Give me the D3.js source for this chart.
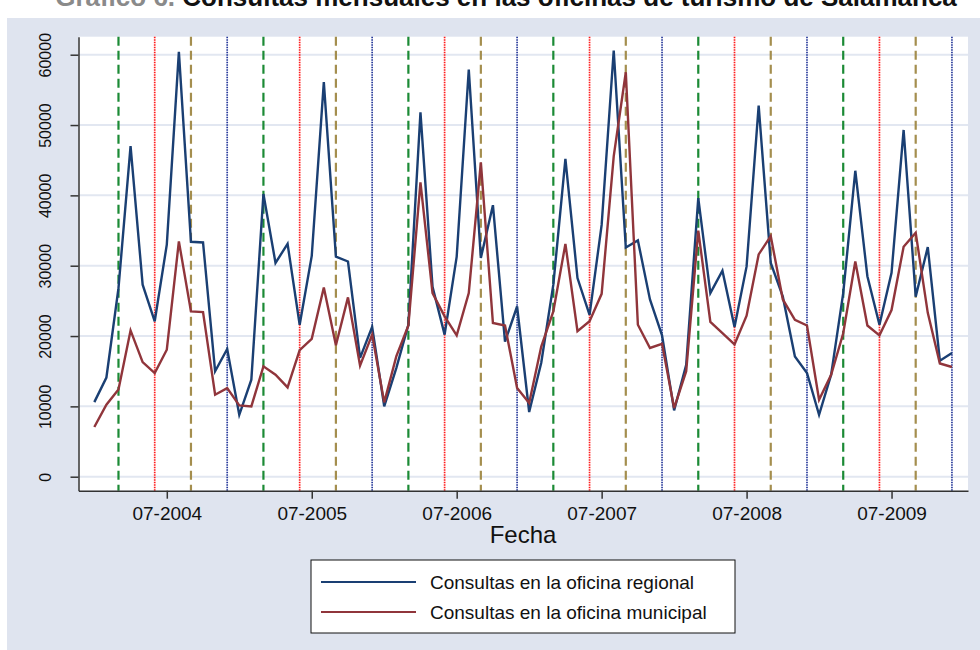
<!DOCTYPE html>
<html>
<head>
<meta charset="utf-8">
<script src="https://cdn.jsdelivr.net/npm/d3@7"></script>
<style>
  body { margin: 0; background: #ffffff; }
  svg { display: block; font-family: "Liberation Sans", Arial, sans-serif; }
</style>
</head>
<body>
<div class="diagram-canvas"></div>
<script>
// monthly values, Jan 2004 .. Dec 2009
let regional = [
  10600, 14100, 26800, 47000, 27300, 22100, 33000, 60400, 33400, 33300, 15000, 18150,
  8800, 13800, 40200, 30400, 33100, 21600, 31400, 56100, 31300, 30600, 16900, 21300,
  10000, 15450, 21600, 51800, 27000, 20200, 31300, 57900, 31100, 38600, 19200, 24200,
  9200, 16200, 27300, 45200, 28250, 23000, 35800, 60600, 32600, 33600, 25200, 20100,
  9430, 15900, 39600, 26100, 29300, 21300, 29900, 52750, 30400, 25600, 17100, 14740,
  8800, 14500, 26100, 43500, 28500, 21600, 29000, 49300, 25600, 32650, 16500, 17600
];
let municipal = [
  7060, 10240, 12400, 20800, 16300, 14740, 18060, 33460, 23500, 23400, 11660, 12600,
  10140, 10000, 15690, 14500, 12700, 18000, 19600, 26900, 18700, 25500, 15800, 20200,
  10570, 17100, 21500, 41850, 26100, 22800, 20100, 26100, 44700, 21850, 21500, 12600,
  10470, 18500, 23500, 33100, 20700, 22100, 26000, 45550, 57500, 21600, 18300, 18900,
  9760, 15000, 35000, 22000, 20400, 18800, 22900, 31600, 34200, 25200, 22300, 21500,
  10950, 14500, 20400, 30600, 21500, 20100, 23700, 32700, 34700, 23300, 16100, 15600
];
let years = [2004, 2005, 2006, 2007, 2008, 2009];
let xTickLabels = ["07-2004", "07-2005", "07-2006", "07-2007", "07-2008", "07-2009"];
let yTicks = [0, 10000, 20000, 30000, 40000, 50000, 60000];
// month of the year (0 = January) marked by a vertical line, one per season
let seasonMonths = [2, 5, 8, 11];
let seriesNames = ["Consultas en la oficina regional", "Consultas en la oficina municipal"];

let width = 980,
  height = 650;

let seasonStyle = [
  { color: "#1b8a35", dash: "9,5", w: 2.2 },
  { color: "#ff1a1a", dash: "1.5,1", w: 1.7 },
  { color: "#a48e4e", dash: "9,5", w: 2.2 },
  { color: "#26399a", dash: "1.5,1", w: 1.7 }
];

let svg = d3
  .select(".diagram-canvas")
  .append("svg")
  .attr("width", width)
  .attr("height", height);

// graph region
svg.append("rect")
  .attr("x", 7).attr("y", 18)
  .attr("width", width - 7).attr("height", height - 18)
  .attr("fill", "#dfe4ef");

let xScale = d3.scaleLinear().domain([-1.31, 72.33]).range([78.5, 968]);
let yScale = d3.scaleLinear().domain([-1990, 62560]).range([490.7, 36.7]);

// plot region
svg.append("rect")
  .attr("x", xScale.range()[0]).attr("y", yScale.range()[1])
  .attr("width", xScale.range()[1] - xScale.range()[0])
  .attr("height", yScale.range()[0] - yScale.range()[1])
  .attr("fill", "#ffffff");

// grid
svg.append("g")
  .selectAll("line")
  .data(yTicks)
  .enter()
  .append("line")
  .attr("x1", xScale.range()[0])
  .attr("x2", xScale.range()[1])
  .attr("y1", (d) => yScale(d))
  .attr("y2", (d) => yScale(d))
  .attr("stroke", "#e2e7f1")
  .attr("stroke-width", 2);

// season lines
let marks = [];
years.forEach(function (y, yi) {
  seasonMonths.forEach(function (m, si) {
    marks.push({ idx: yi * 12 + m, s: si });
  });
});

svg.append("g")
  .selectAll("line")
  .data(marks)
  .enter()
  .append("line")
  .attr("x1", (d) => xScale(d.idx))
  .attr("x2", (d) => xScale(d.idx))
  .attr("y1", yScale.range()[1])
  .attr("y2", yScale.range()[0])
  .attr("stroke", (d) => seasonStyle[d.s].color)
  .attr("stroke-width", (d) => seasonStyle[d.s].w)
  .attr("stroke-dasharray", (d) => seasonStyle[d.s].dash);

// series
let line = d3.line().x((d, i) => xScale(i)).y((d) => yScale(d));
let seriesColors = ["#1a3f73", "#90353b"];

svg.append("path")
  .datum(regional)
  .attr("d", line)
  .attr("fill", "none")
  .attr("stroke", seriesColors[0])
  .attr("stroke-width", 2.4)
  .attr("stroke-linejoin", "miter");

svg.append("path")
  .datum(municipal)
  .attr("d", line)
  .attr("fill", "none")
  .attr("stroke", seriesColors[1])
  .attr("stroke-width", 2.4)
  .attr("stroke-linejoin", "miter");

// axes
let xAxis = d3
  .axisBottom(xScale)
  .tickValues(xTickLabels.map((d, i) => 6 + i * 12))
  .tickFormat((d, i) => xTickLabels[i])
  .tickSize(8)
  .tickSizeOuter(0);

let gx = svg.append("g")
  .attr("transform", "translate(0," + yScale.range()[0] + ")")
  .call(xAxis);
gx.select(".domain").attr("stroke", "#333333").attr("stroke-width", 1.5);
gx.selectAll(".tick line").attr("stroke", "#333333").attr("stroke-width", 1.5);
gx.selectAll(".tick text")
  .attr("font-size", 19)
  .attr("font-family", "Liberation Sans, Arial, sans-serif")
  .attr("fill", "#111111")
  .attr("dy", "0.95em");

let yAxis = d3.axisLeft(yScale).tickValues(yTicks).tickSize(8).tickSizeOuter(0).tickFormat(d3.format("d"));
let gy = svg.append("g")
  .attr("transform", "translate(" + xScale.range()[0] + ",0)")
  .call(yAxis);
gy.select(".domain").attr("stroke", "#333333").attr("stroke-width", 1.5);
gy.selectAll(".tick line").attr("stroke", "#333333").attr("stroke-width", 1.5);
gy.selectAll(".tick text")
  .attr("font-size", 16)
  .attr("font-family", "Liberation Sans, Arial, sans-serif")
  .attr("fill", "#111111")
  .attr("text-anchor", "middle")
  .attr("x", 0)
  .attr("dy", 0)
  .attr("transform", "translate(-28,0) rotate(-90)");

// axis title
svg.append("text")
  .attr("x", 523)
  .attr("y", 543)
  .attr("text-anchor", "middle")
  .attr("font-size", 24)
  .attr("fill", "#111111")
  .text("Fecha");

// title (partly cut by the top edge, as in the source)
let title = svg.append("text")
  .attr("x", 506)
  .attr("y", 6)
  .attr("text-anchor", "middle")
  .attr("font-size", 26)
  .attr("font-weight", "bold");
title.append("tspan").attr("fill", "#8a8a8a").text("Gráfico 6. ");
title.append("tspan").attr("fill", "#111111").text("Consultas mensuales en las oficinas de turismo de Salamanca");

// legend
let legend = svg.append("g").attr("id", "legend");
legend.append("rect")
  .attr("x", 311).attr("y", 560)
  .attr("width", 424).attr("height", 73)
  .attr("fill", "#ffffff")
  .attr("stroke", "#111111")
  .attr("stroke-width", 1);

let legendItems = legend.selectAll(".item")
  .data(seriesNames)
  .enter()
  .append("g")
  .attr("class", "item")
  .attr("transform", (d, i) => "translate(0," + (582 + i * 30) + ")");

legendItems.append("line")
  .attr("x1", 321).attr("x2", 416)
  .attr("stroke", (d, i) => seriesColors[i])
  .attr("stroke-width", 2.2);

legendItems.append("text")
  .attr("x", 430)
  .attr("dy", "0.35em")
  .attr("font-size", 19)
  .attr("fill", "#111111")
  .text((d) => d);
</script>
</body>
</html>
